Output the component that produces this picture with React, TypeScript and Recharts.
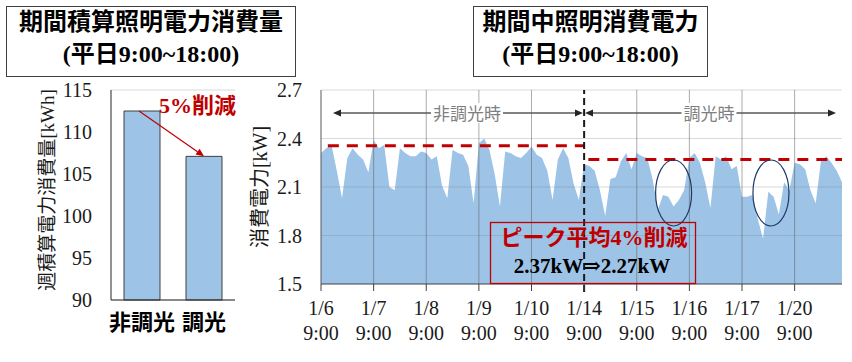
import { Area, AreaChart, Bar, BarChart, CartesianGrid, ReferenceDot, ReferenceLine, XAxis, YAxis } from "recharts"

const SERIF = "'Liberation Serif', 'Times New Roman', 'Noto Sans CJK JP', serif"
const SANS = "'Noto Sans CJK JP', 'Noto Sans', sans-serif"

// left chart: weekly totals
const barCategories = ["非調光", "調光"]
const barValues = [112.5, 107.1]
const barTicks = [90, 95, 100, 105, 110, 115]

// right chart: hourly power 9:00-18:00, 10 points per day
const dayLabels = ["1/6", "1/7", "1/8", "1/9", "1/10", "1/14", "1/15", "1/16", "1/17", "1/20"]
const timeLabel = "9:00"
const pointsPerDay = 10
const nonDimmingKw = [
  2.31, 2.34, 2.36, 2.2, 2.03, 2.28, 2.34, 2.3, 2.27, 2.19,
  2.39, 2.34, 2.36, 2.1, 2.08, 2.34, 2.31, 2.29, 2.29, 2.32,
  2.31, 2.27, 2.29, 2.11, 2.03, 2.33, 2.31, 2.3, 2.23, 2.0,
  2.37, 2.4, 2.33, 2.18, 1.98, 2.32, 2.31, 2.29, 2.28, 2.31,
  2.35, 2.3, 2.28, 2.2, 2.02, 2.27, 2.34, 2.28, 2.12, 2.02,
]
const dimmingKw = [
  2.24, 2.23, 2.2, 2.08, 1.92, 2.15, 2.16, 2.26, 2.31, 2.21,
  2.31, 2.29, 2.28, 2.15, 1.96, 2.05, 2.04, 1.98, 2.02, 2.08,
  2.28, 2.31, 2.25, 2.13, 1.97, 2.29, 2.27, 2.29, 2.21, 2.23,
  2.04, 2.04, 2.05, 1.9, 1.78, 2.07, 2.04, 1.93, 2.13, 2.08,
  2.25, 2.24, 2.21, 2.08, 2.0, 2.26, 2.29, 2.25, 2.2, 2.13,
]
const powerTicks = [1.5, 1.8, 2.1, 2.4, 2.7]
const peakBefore = 2.355
const peakAfter = 2.27
const circledPoints = [
  { x: 67, y: 2.063 },
  { x: 85.5, y: 2.063 },
]

const barData = barCategories.map((name, i) => ({ name, kwh: barValues[i] }))
const powerKw = [...nonDimmingKw, ...dimmingKw]
const powerData = powerKw.map((kw, i) => ({ i, kw }))
const lastIndex = powerKw.length - 1
const switchIndex = nonDimmingKw.length
const dayTicks = dayLabels.map((_, d) => d * pointsPerDay)

function DayTick(props: any) {
  const { x, y, payload } = props
  const label = dayLabels[Math.round(payload.value / pointsPerDay)]
  return (
    <text x={x} y={y} textAnchor="middle" fontFamily={SERIF} fontSize={20} fill="#1a1a1a">
      <tspan x={x} dy={22}>{label}</tspan>
      <tspan x={x} dy={25}>{timeLabel}</tspan>
    </text>
  )
}

function RedArrow(props: any) {
  const { x1, y1, x2, y2 } = props
  const a = Math.atan2(y2 - y1, x2 - x1)
  const len = 8
  const bx = x2 - len * Math.cos(a)
  const by = y2 - len * Math.sin(a)
  const px = 3.5 * Math.sin(a)
  const py = -3.5 * Math.cos(a)
  return (
    <g>
      <line x1={x1 - 3} y1={y1} x2={bx} y2={by} stroke="#c00000" strokeWidth={1.2} />
      <polygon points={`${x2},${y2} ${bx + px},${by + py} ${bx - px},${by - py}`} fill="#c00000" />
    </g>
  )
}

function Ellipse(props: any) {
  const { cx, cy } = props
  return <ellipse cx={cx} cy={cy} rx={18} ry={33} fill="none" stroke="#1f3864" strokeWidth={1.2} />
}

function Arrow({ x1, x2, y, text, tx }: { x1: number; x2: number; y: number; text: string; tx: number }) {
  const w = text.length * 17 + 4
  return (
    <g>
      <line x1={x1 + 7} y1={y} x2={x2 - 7} y2={y} stroke="#595959" strokeWidth={1.3} />
      <polygon points={`${x1},${y} ${x1 + 8},${y - 3.5} ${x1 + 8},${y + 3.5}`} fill="#262626" />
      <polygon points={`${x2},${y} ${x2 - 8},${y - 3.5} ${x2 - 8},${y + 3.5}`} fill="#262626" />
      <rect x={tx - w / 2} y={y - 10} width={w} height={20} fill="#fff" />
      <text x={tx} y={y + 6.5} textAnchor="middle" fontFamily={SANS} fontSize={17} fill="#7f7f7f">
        {text}
      </text>
    </g>
  )
}

function TitleBox({ x, w, line1 }: { x: number; w: number; line1: string }) {
  const cx = x + w / 2
  return (
    <g>
      <rect x={x} y={6.5} width={w} height={70} fill="#fff" stroke="#404040" strokeWidth={1} />
      <text x={cx} y={30} textAnchor="middle" fontFamily={SANS} fontWeight="bold" fontSize={24} fill="#000">
        {line1}
      </text>
      <text x={cx} y={62} textAnchor="middle" fontFamily={SERIF} fontWeight="bold" fontSize={24} fill="#000">
        (平日9:00~18:00)
      </text>
    </g>
  )
}

export default function App() {
  return (
    <div style={{ position: "absolute", left: 0, top: 0, width: 852, height: 362, background: "#fff" }}>
      <div style={{ position: "absolute", left: 0, top: 0 }}>
        <BarChart width={260} height={362} data={barData} margin={{ top: 90, right: 25, bottom: 22, left: 51 }}>
          <CartesianGrid vertical={false} stroke="#d9d9d9" />
          <XAxis
            dataKey="name"
            height={40}
            axisLine={{ stroke: "#262626" }}
            tickLine={false}
            tickSize={6}
            tickMargin={8}
            tick={{ fontFamily: SANS, fontWeight: "bold", fontSize: 22, fill: "#000" }}
          />
          <YAxis
            yAxisId="l"
            width={60}
            domain={[90, 115]}
            ticks={barTicks}
            axisLine={{ stroke: "#262626" }}
            tickLine={false}
            tickSize={6}
            tickMargin={13}
            tick={{ fontFamily: SERIF, fontSize: 20, fill: "#1a1a1a" }}
          />
          <YAxis yAxisId="r" orientation="right" width={0} domain={[90, 115]} tick={false} tickLine={false} axisLine={{ stroke: "#bfbfbf" }} />
          <Bar yAxisId="l" dataKey="kwh" barSize={36} fill="#9dc3e6" stroke="#404040" strokeWidth={1} isAnimationActive={false} />
          <ReferenceLine
            yAxisId="l"
            segment={[
              { x: barCategories[0], y: barValues[0] },
              { x: barCategories[1], y: barValues[1] },
            ]}
            shape={RedArrow}
          />
        </BarChart>
      </div>
      <div style={{ position: "absolute", left: 240, top: 0 }}>
        <AreaChart width={612} height={362} data={powerData} margin={{ top: 90, right: 10, bottom: 18, left: 21 }}>
          <XAxis
            dataKey="i"
            type="number"
            domain={[0, lastIndex]}
            ticks={dayTicks}
            height={60}
            axisLine={{ stroke: "#404040" }}
            tickLine={{ stroke: "#404040" }}
            tickSize={7}
            tickMargin={2}
            tick={DayTick}
          />
          <YAxis
            yAxisId="l"
            width={60}
            domain={[1.5, 2.7]}
            ticks={powerTicks}
            allowDataOverflow
            axisLine={{ stroke: "#595959" }}
            tickLine={false}
            tickSize={6}
            tickMargin={13}
            tickFormatter={(v: number) => v.toFixed(1)}
            tick={{ fontFamily: SERIF, fontSize: 20, fill: "#1a1a1a" }}
          />
          <YAxis yAxisId="r" orientation="right" width={0} domain={[1.5, 2.7]} tick={false} tickLine={false} axisLine={{ stroke: "#595959" }} />
          <Area
            yAxisId="l"
            type="linear"
            dataKey="kw"
            fill="#9dc3e6"
            fillOpacity={1}
            stroke="none"
            dot={false}
            activeDot={false}
            isAnimationActive={false}
          />
          {powerTicks.slice(1).map((t) => (
            <ReferenceLine key={"h" + t} yAxisId="l" y={t} stroke="rgba(128,128,128,0.3)" strokeWidth={1} />
          ))}
          {dayTicks.slice(1).map((t) =>
            t === switchIndex ? null : (
              <ReferenceLine key={"v" + t} yAxisId="l" x={t} stroke="rgba(89,89,89,0.5)" strokeWidth={1} />
            )
          )}
          <ReferenceLine
            yAxisId="l"
            segment={[
              { x: 1.3, y: peakBefore },
              { x: switchIndex, y: peakBefore },
            ]}
            stroke="#c00000"
            strokeWidth={3}
            strokeDasharray="11 8"
          />
          <ReferenceLine
            yAxisId="l"
            segment={[
              { x: switchIndex + 0.8, y: peakAfter },
              { x: lastIndex, y: peakAfter },
            ]}
            stroke="#c00000"
            strokeWidth={3}
            strokeDasharray="11 8"
          />
          <ReferenceLine
            yAxisId="l"
            segment={[
              { x: switchIndex, y: 1.45 },
              { x: switchIndex, y: 2.7 },
            ]}
            ifOverflow="visible"
            stroke="#1a1a1a"
            strokeWidth={2}
            strokeDasharray="7 4"
          />
          {circledPoints.map((p) => (
            <ReferenceDot key={p.x} yAxisId="l" x={p.x} y={p.y} r={1} shape={Ellipse} />
          ))}
        </AreaChart>
      </div>
      <svg width={852} height={362} style={{ position: "absolute", left: 0, top: 0, pointerEvents: "none" }}>
        <TitleBox x={6.5} w={289} line1="期間積算照明電力消費量" />
        <TitleBox x={473.5} w={234} line1="期間中照明消費電力" />
        <text x={54} y={190} transform="rotate(-90, 54, 190)" textAnchor="middle" fontFamily={SERIF} fontSize={19} fill="#1a1a1a">
          <tspan fontFamily={SANS}>週積算電力消費量</tspan>[kWh]
        </text>
        <text x={267} y={187} transform="rotate(-90, 267, 187)" textAnchor="middle" fontFamily={SERIF} fontSize={20} fill="#1a1a1a">
          <tspan fontFamily={SANS}>消費電力</tspan>[kW]
        </text>
        <text x={159} y={113} fontFamily={SERIF} fontWeight="bold" fontSize={22} fill="#c00000">
          5%<tspan fontFamily={SANS}>削減</tspan>
        </text>
        <Arrow x1={333} x2={583} y={113} text="非調光時" tx={467} />
        <Arrow x1={585} x2={836} y={113} text="調光時" tx={709} />
        <rect x={490.5} y={222.5} width={205} height={61} fill="none" stroke="#c00000" strokeWidth={1.3} />
        <text x={594} y={245} textAnchor="middle" fontFamily={SANS} fontWeight="bold" fontSize={22} fill="#c00000">
          ピーク平均<tspan fontFamily={SERIF}>4%</tspan>削減
        </text>
        <text x={592} y={273} textAnchor="middle" fontFamily={SERIF} fontWeight="bold" fontSize={21} fill="#000">
          2.37kW<tspan fontFamily="'DejaVu Serif', serif">⇒</tspan>2.27kW
        </text>
      </svg>
    </div>
  )
}
